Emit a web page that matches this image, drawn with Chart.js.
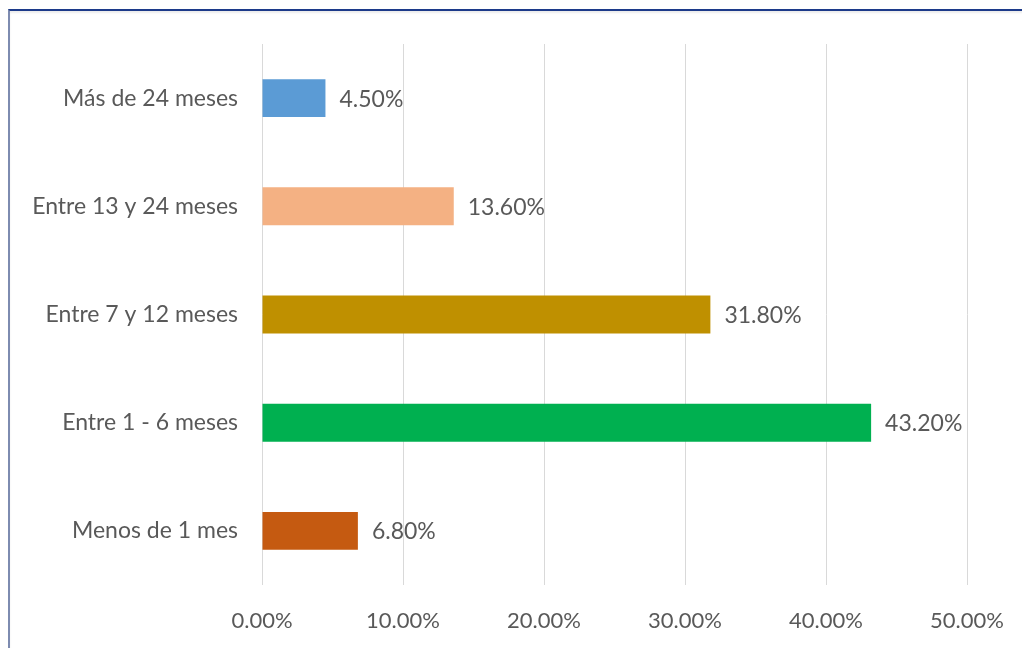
<!DOCTYPE html>
<html>
<head>
<meta charset="utf-8">
<script src="https://cdn.jsdelivr.net/npm/chart.js@4.4.0/dist/chart.umd.min.js"></script>
<style>
  html, body { margin: 0; padding: 0; background: #fff; }
  #wrap { position: relative; width: 1022px; height: 648px; overflow: hidden; }
  #frame {
    position: absolute; left: 8px; top: 9px; right: -4px; bottom: -4px;
    border-top: 2px solid #1c3a8a; border-left: 2px solid #7d8bb0;
    box-shadow: inset 0 2px 2px rgba(0,0,0,0.08);
  }
  #chart { position: absolute; left: 0; top: 0; }
</style>
</head>
<body>
<div id="wrap">
  <div id="frame"></div>
  <canvas id="chart" width="1022" height="648"></canvas>
</div>
<script>
// tiempo en meses, de arriba hacia abajo
const categories = [
  "Más de 24 meses",
  "Entre 13 y 24 meses",
  "Entre 7 y 12 meses",
  "Entre 1 - 6 meses",
  "Menos de 1 mes",
];
const values = [4.5, 13.6, 31.8, 43.2, 6.8];
const barColors = ["#5b9bd5", "#f4b183", "#bf9000", "#00b050", "#c55a11"];
const tickValues = [0, 10, 20, 30, 40, 50];

const fontFamily = "Lato, 'Open Sans', sans-serif";
const textColor = "#595959";

// etiquetas de valor al final de cada barra
const valueLabels = {
  id: "valueLabels",
  afterDatasetsDraw(chart) {
    const ctx = chart.ctx;
    const meta = chart.getDatasetMeta(0);
    ctx.save();
    ctx.font = "23px " + fontFamily;
    ctx.fillStyle = textColor;
    ctx.textAlign = "left";
    ctx.textBaseline = "middle";
    meta.data.forEach(function (bar, i) {
      ctx.fillText(values[i].toFixed(2) + "%", bar.x + 14, bar.y + 1);
    });
    ctx.restore();
  },
};

const ctx = document.getElementById("chart");
new Chart(ctx, {
  type: "bar",
  data: {
    labels: categories,
    datasets: [
      {
        data: values,
        backgroundColor: barColors,
        borderWidth: 0,
        categoryPercentage: 0.7,
        barPercentage: 0.5,
      },
    ],
  },
  options: {
    indexAxis: "y",
    responsive: false,
    animation: false,
    layout: { padding: { top: 44, right: 55, left: 0, bottom: 0 } },
    plugins: {
      legend: { display: false },
      tooltip: { enabled: false },
    },
    scales: {
      x: {
        min: 0,
        max: 50,
        afterBuildTicks(scale) {
          scale.ticks = tickValues.map(function (v) { return { value: v }; });
        },
        afterFit(scale) {
          scale.height = 63;
          // la última etiqueta puede salirse del área, la padding del layout ya la cubre
          scale.paddingLeft = 0;
          scale.paddingRight = 0;
        },
        grid: { color: "#d9d9d9", lineWidth: 1, drawTicks: false },
        border: { display: false },
        ticks: {
          padding: 23,
          color: textColor,
          font: { family: fontFamily, size: 22 },
          callback: function (v) { return v.toFixed(2) + "%"; },
        },
      },
      y: {
        afterFit(scale) { scale.width = 262; },
        grid: { display: false, drawTicks: false },
        border: { display: false },
        ticks: {
          padding: 24,
          color: textColor,
          font: { family: fontFamily, size: 23 },
        },
      },
    },
  },
  plugins: [valueLabels],
});
</script>
</body>
</html>
